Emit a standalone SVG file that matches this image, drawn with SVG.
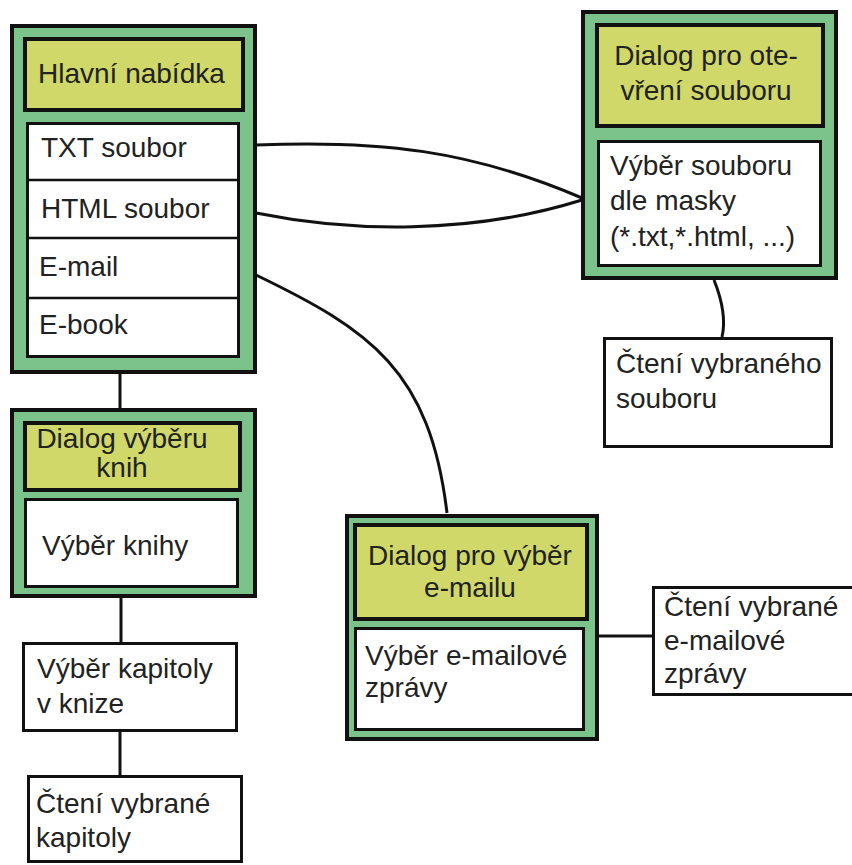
<svg xmlns="http://www.w3.org/2000/svg" width="852" height="865" viewBox="0 0 852 865">
<style>
.outer{fill:#7CC38B;stroke:#111;stroke-width:4}
.head{fill:#D1D86A;stroke:#111;stroke-width:4}
.box{fill:#fff;stroke:#111;stroke-width:3}
.sep{stroke:#111;stroke-width:2.5}
.con{fill:none;stroke:#111;stroke-width:3}
text{font-family:"Liberation Sans",Arial,sans-serif;font-size:28px;fill:#222}
.c{text-anchor:middle}
</style>
<rect width="852" height="865" fill="#fff"/>
<g id="connectors">
<path class="con" d="M120 374 L120 408"/>
<path class="con" d="M121 598 L121 642"/>
<path class="con" d="M120 732 L120 775"/>
<path class="con" d="M714 280 C722 300 726 320 722 337"/>
<path class="con" d="M599 636 L652 636"/>
<path class="con" d="M256 145 C380 140 470 150 582 198"/>
<path class="con" d="M256 213 C350 232 470 235 582 200"/>
<path class="con" d="M256 275 C370 330 430 370 447 513"/>
</g>
<g id="hlavni-nabidka">
<rect class="outer" x="12" y="26" width="243" height="346"/>
<rect class="head" x="25" y="39" width="218" height="71"/>
<text x="38" y="83">Hlavní nabídka</text>
<rect class="box" x="27.5" y="123.5" width="211" height="233"/>
<line class="sep" x1="27" y1="180" x2="239" y2="180"/>
<line class="sep" x1="27" y1="238" x2="239" y2="238"/>
<line class="sep" x1="27" y1="298" x2="239" y2="298"/>
<text x="41" y="157">TXT soubor</text>
<text x="41" y="218">HTML soubor</text>
<text x="39" y="276">E-mail</text>
<text x="39" y="334">E-book</text>
</g>
<g id="dialog-otevreni">
<rect class="outer" x="583" y="12" width="253" height="266"/>
<rect class="head" x="597" y="25" width="226" height="101"/>
<text class="c" x="706" y="65">Dialog pro ote-</text>
<text class="c" x="706" y="100">vření souboru</text>
<rect class="box" x="598.5" y="141.5" width="222" height="124"/>
<text x="610" y="175">Výběr souboru</text>
<text x="610" y="210">dle masky</text>
<text x="610" y="246">(*.txt,*.html, ...)</text>
</g>
<g id="cteni-souboru">
<rect class="box" x="604.5" y="338.5" width="227" height="108"/>
<text x="616" y="373">Čtení vybraného</text>
<text x="616" y="408">souboru</text>
</g>
<g id="dialog-knih">
<rect class="outer" x="12" y="410" width="243" height="186"/>
<rect class="head" x="25" y="423" width="215" height="67"/>
<text class="c" x="122" y="448">Dialog výběru</text>
<text class="c" x="122" y="477">knih</text>
<rect class="box" x="25.5" y="499.5" width="212" height="87"/>
<text x="42" y="555">Výběr knihy</text>
</g>
<g id="vyber-kapitoly">
<rect class="box" x="23.5" y="643.5" width="213" height="87"/>
<text x="37" y="678">Výběr kapitoly</text>
<text x="37" y="713">v knize</text>
</g>
<g id="cteni-kapitoly">
<rect class="box" x="28.5" y="776.5" width="213" height="85"/>
<text x="36" y="813">Čtení vybrané</text>
<text x="36" y="847">kapitoly</text>
</g>
<g id="dialog-emailu">
<rect class="outer" x="347" y="516" width="250" height="223"/>
<rect class="head" x="355" y="525" width="232" height="94"/>
<text class="c" x="470" y="565">Dialog pro výběr</text>
<text class="c" x="470" y="597">e-mailu</text>
<rect class="box" x="355.5" y="628.5" width="228" height="101"/>
<text x="365" y="665">Výběr e-mailové</text>
<text x="365" y="697">zprávy</text>
</g>
<g id="cteni-emailu">
<rect class="box" x="653.5" y="587.5" width="210" height="107"/>
<text x="664" y="616">Čtení vybrané</text>
<text x="664" y="650">e-mailové</text>
<text x="664" y="683">zprávy</text>
</g>
</svg>
